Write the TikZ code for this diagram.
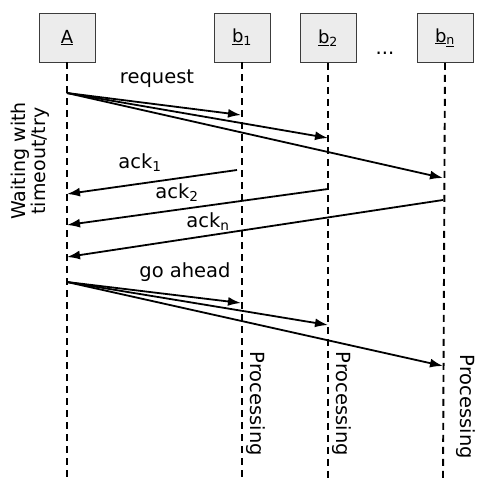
\documentclass[tikz,border=0pt]{standalone}
\usepackage{fontspec}
\setmainfont{DejaVu Sans}
\usepackage{xcolor}
\definecolor{boxgray}{RGB}{236, 236, 236}
\definecolor{boxline}{RGB}{60, 60, 60}
\usepackage{tikz}
\usetikzlibrary{arrows.meta}
\tikzset{
  % --- PARTICIPANTS ---
  party/.style={
    fill=boxgray,
    draw=boxline,
    line width=0.9pt,
    minimum width=56pt,
    minimum height=49pt,
    inner sep=2pt,
    font=\fontsize{18}{20}\selectfont,
    align=center
  },
  lifeline/.style={
    draw=black,
    line width=1.9pt,
    dash pattern=on 7pt off 5pt
  },
  % --- LABELS ---
  msg-label/.style={
    font=\fontsize{19.5}{22}\selectfont,
    inner sep=0pt
  },
  side-note/.style={
    font=\fontsize{19}{20}\selectfont,
    align=center,
    inner sep=0pt
  },
  % --- ARROWS ---
  msg/.style={
    draw=black,
    line width=1.8pt,
    -{Latex[length=13pt,width=9pt]}
  },
}

\begin{document}
\begin{tikzpicture}[x=1pt, y=-1pt]
  \useasboundingbox (0,0) rectangle (477,479);
  % --- participants
  \node[party] (A)  at (67, 37.5)  {\underline{A}};
  \node[party] (b1) at (242, 37.5) {\underline{b}\textsubscript{1}};
  \node[party] (b2) at (328, 38)   {\underline{b}\textsubscript{2}};
  \node[party] (bn) at (445, 37.5) {\underline{b}\textsubscript{\underline{n}}};
  \node[msg-label, anchor=base] (dots) at (385, 54) {...};
  % --- lifelines
  \coordinate (A-end)  at (67, 479);
  \coordinate (b1-end) at (242, 479);
  \coordinate (b2-end) at (328, 479);
  \coordinate (bn-end) at (443, 479);
  \draw[lifeline] (A.south)  -- (A-end);
  \draw[lifeline] (b1.south) -- (b1-end);
  \draw[lifeline] (b2.south) -- (b2-end);
  \draw[lifeline] (bn.south |- b2.south) -- (bn-end);
  % --- request
  \coordinate (A-req)  at (67, 93);
  \coordinate (b1-req) at (241, 115);
  \coordinate (b2-req) at (328, 138);
  \coordinate (bn-req) at (443, 178);
  \node[msg-label] (req) at (157, 79) {request};
  \draw[msg] (A-req) -- (b1-req);
  \draw[msg] (A-req) -- (b2-req);
  \draw[msg] (A-req) -- (bn-req);
  % --- acks
  \coordinate (b1-ack) at (237, 170);
  \coordinate (b2-ack) at (328, 189);
  \coordinate (bn-ack) at (443, 200);
  \coordinate (A-ack1) at (67, 194);
  \coordinate (A-ack2) at (67, 225);
  \coordinate (A-ackn) at (67, 257);
  \node[msg-label] (ack1) at (140, 163) {ack\textsubscript{1}};
  \node[msg-label] (ack2) at (177, 193) {ack\textsubscript{2}};
  \node[msg-label] (ackn) at (208, 222) {ack\textsubscript{n}};
  \draw[msg] (b1-ack) -- (A-ack1);
  \draw[msg] (b2-ack) -- (A-ack2);
  \draw[msg] (bn-ack) -- (A-ackn);
  % --- go ahead
  \coordinate (A-go)  at (67, 282);
  \coordinate (b1-go) at (241, 303);
  \coordinate (b2-go) at (328, 325);
  \coordinate (bn-go) at (443, 366);
  \node[msg-label] (go) at (185, 272) {go ahead};
  \draw[msg] (A-go) -- (b1-go);
  \draw[msg] (A-go) -- (b2-go);
  \draw[msg] (A-go) -- (bn-go);
  % --- side notes
  \node[side-note, rotate=90] (wait) at (30, 161) {Waiting with\\timeout/try};
  \node[msg-label, rotate=-90] (proc1) at (256, 404) {Processing};
  \node[msg-label, rotate=-90] (proc2) at (342, 404) {Processing};
  \node[msg-label, rotate=-90] (procn) at (466, 407) {Processing};
\end{tikzpicture}
\end{document}
